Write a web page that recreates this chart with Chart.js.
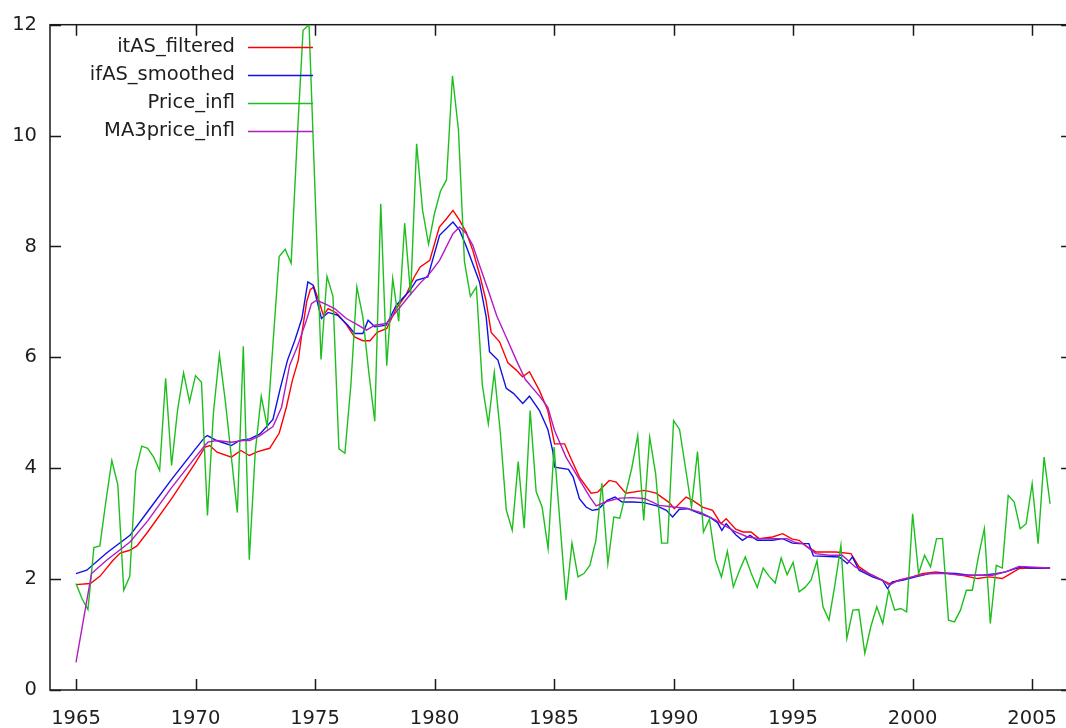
<!DOCTYPE html>
<html>
<head>
<meta charset="utf-8">
<title>Price inflation and filtered estimates</title>
<script src="https://cdn.jsdelivr.net/npm/chart.js@4.4.1/dist/chart.umd.min.js"></script>
<style>
  html, body { margin: 0; padding: 0; background: #ffffff; overflow: hidden; }
  #wrap { width: 1066px; height: 728px; overflow: hidden; }
  #chart { display: block; }
</style>
</head>
<body>
<div id="wrap"><canvas id="chart" width="1074" height="728"></canvas></div>
<script>
// Quarterly series starts at 1965Q1
const START_YEAR = 1965;
const QUARTER = 0.25;

// Price_infl, one value per quarter (1965Q1 .. 2005Q4)
const priceInfl = [
  1.92, 1.65, 1.45, 2.57, 2.60, 3.40, 4.14, 3.70, 1.80, 2.05,
  3.95, 4.40, 4.36, 4.20, 3.96, 5.62, 4.05, 5.05, 5.72, 5.20,
  5.67, 5.55, 3.15, 5.00, 6.05, 5.20, 4.20, 3.20, 6.20, 2.35,
  4.30, 5.30, 4.75, 6.30, 7.82, 7.95, 7.70, 9.90, 11.90, 12.00,
  9.00, 5.96, 7.46, 7.10, 4.35, 4.27, 5.50, 7.27, 6.73, 5.73,
  4.85, 8.77, 5.85, 7.42, 6.65, 8.42, 7.12, 9.85, 8.65, 8.04,
  8.60, 9.00, 9.20, 11.08, 10.10, 7.73, 7.10, 7.27, 5.50, 4.80,
  5.73, 4.65, 3.25, 2.88, 4.12, 2.92, 5.04, 3.58, 3.30, 2.55,
  4.38, 3.00, 1.62, 2.65, 2.04, 2.10, 2.25, 2.70, 3.73, 2.28,
  3.12, 3.10, 3.55, 4.00, 4.59, 3.06, 4.56, 3.90, 2.65, 2.65,
  4.86, 4.70, 4.00, 3.30, 4.30, 2.85, 3.08, 2.35, 2.04, 2.50,
  1.86, 2.15, 2.40, 2.10, 1.85, 2.20, 2.05, 1.93, 2.38, 2.08,
  2.30, 1.77, 1.85, 1.98, 2.33, 1.50, 1.26, 1.90, 2.61, 0.93,
  1.44, 1.45, 0.66, 1.14, 1.50, 1.20, 1.80, 1.44, 1.47, 1.41,
  3.18, 2.10, 2.43, 2.22, 2.73, 2.73, 1.26, 1.23, 1.44, 1.80,
  1.80, 2.40, 2.91, 1.20, 2.25, 2.20, 3.51, 3.39, 2.91, 3.00,
  3.72, 2.64, 4.20, 3.36
];

// itAS_filtered: breakpoints (year, value)
const itasYears = [
  1965.0, 1965.6, 1966.0, 1966.55, 1966.85, 1967.25, 1967.55, 1968.0, 1969.0, 1970.0,
  1970.4, 1970.6, 1970.9, 1971.5, 1971.9, 1972.25, 1972.6, 1973.1, 1973.5, 1973.8,
  1974.05, 1974.3, 1974.45, 1974.65, 1974.8, 1974.95, 1975.15, 1975.35, 1975.55, 1975.9,
  1976.3, 1976.65, 1977.0, 1977.3, 1977.6, 1978.0, 1978.4, 1978.8, 1979.15, 1979.4,
  1979.8, 1980.2, 1980.5, 1980.77, 1981.05, 1981.33, 1981.6, 1981.88, 1982.15, 1982.37,
  1982.72, 1983.07, 1983.42, 1983.68, 1983.97, 1984.39, 1984.74, 1985.02, 1985.44, 1985.71,
  1986.06, 1986.55, 1986.83, 1987.31, 1987.6, 1988.0, 1988.78, 1989.27, 1989.82, 1990.03,
  1990.52, 1990.8, 1991.21, 1991.63, 1991.98, 1992.2, 1992.6, 1992.9, 1993.24, 1993.58,
  1994.14, 1994.56, 1994.97, 1995.25, 1995.6, 1995.95, 1996.79, 1997.42, 1997.76, 1998.18,
  1998.6, 1999.02, 1999.43, 1999.99, 2000.39, 2000.97, 2001.52, 2002.08, 2002.71, 2003.2,
  2003.75, 2004.1, 2004.45, 2004.87, 2005.75
];
const itasValues = [
  1.90, 1.92, 2.05, 2.34, 2.47, 2.52, 2.60, 2.85, 3.45, 4.10,
  4.38, 4.41, 4.29, 4.20, 4.32, 4.23, 4.30, 4.36, 4.63, 5.10,
  5.58, 5.95, 6.43, 7.00, 7.22, 7.27, 7.03, 6.76, 6.88, 6.80,
  6.60, 6.37, 6.30, 6.30, 6.45, 6.52, 6.88, 7.12, 7.45, 7.63,
  7.75, 8.35, 8.50, 8.65, 8.47, 8.25, 7.93, 7.50, 7.03, 6.45,
  6.28, 5.90, 5.77, 5.65, 5.74, 5.40, 5.04, 4.44, 4.44, 4.17,
  3.84, 3.55, 3.57, 3.78, 3.75, 3.55, 3.60, 3.55, 3.38, 3.27,
  3.48, 3.42, 3.30, 3.24, 3.00, 3.09, 2.90, 2.85, 2.85, 2.73,
  2.76, 2.82, 2.72, 2.70, 2.58, 2.49, 2.49, 2.46, 2.22, 2.10,
  2.01, 1.92, 1.98, 2.04, 2.10, 2.13, 2.10, 2.07, 2.01, 2.04,
  2.01, 2.10, 2.19, 2.20, 2.20
];

// ifAS_smoothed: breakpoints (year, value)
const ifasYears = [
  1965.0, 1965.45, 1966.28, 1967.26, 1968.0, 1969.0, 1970.0, 1970.39, 1970.5, 1970.88,
  1971.5, 1971.85, 1972.27, 1972.7, 1973.24, 1973.55, 1973.85, 1974.15, 1974.45, 1974.7,
  1974.92, 1975.27, 1975.55, 1975.95, 1976.37, 1976.66, 1977.0, 1977.22, 1977.5, 1977.98,
  1978.4, 1978.96, 1979.24, 1979.72, 1980.21, 1980.77, 1981.05, 1981.33, 1981.88, 1982.16,
  1982.3, 1982.65, 1983.0, 1983.3, 1983.69, 1983.97, 1984.39, 1984.74, 1984.95, 1985.02,
  1985.6, 1985.8, 1986.06, 1986.34, 1986.6, 1986.85, 1987.22, 1987.55, 1987.85, 1988.3,
  1988.75, 1989.3, 1989.7, 1989.96, 1990.24, 1990.6, 1991.0, 1991.5, 1991.84, 1992.02,
  1992.2, 1992.6, 1992.88, 1993.2, 1993.5, 1994.14, 1994.56, 1994.97, 1995.25, 1995.66,
  1995.85, 1996.93, 1997.27, 1997.48, 1997.76, 1998.32, 1998.74, 1998.95, 1999.15, 1999.57,
  2000.13, 2000.69, 2001.24, 2001.8, 2002.36, 2002.92, 2003.48, 2003.89, 2004.3, 2004.59,
  2004.87, 2005.75
];
const ifasValues = [
  2.10, 2.16, 2.47, 2.79, 3.22, 3.80, 4.35, 4.56, 4.59, 4.50,
  4.41, 4.50, 4.53, 4.62, 4.88, 5.45, 5.95, 6.30, 6.70, 7.36,
  7.30, 6.70, 6.81, 6.76, 6.58, 6.43, 6.43, 6.67, 6.55, 6.58,
  6.94, 7.20, 7.39, 7.45, 8.20, 8.44, 8.29, 8.00, 7.36, 6.73,
  6.10, 5.95, 5.44, 5.35, 5.17, 5.30, 5.04, 4.70, 4.30, 4.02,
  3.98, 3.84, 3.45, 3.30, 3.24, 3.26, 3.42, 3.48, 3.39, 3.39,
  3.38, 3.32, 3.24, 3.12, 3.26, 3.27, 3.20, 3.12, 3.02, 2.88,
  3.00, 2.80, 2.70, 2.79, 2.70, 2.70, 2.73, 2.65, 2.64, 2.64,
  2.42, 2.40, 2.28, 2.40, 2.16, 2.04, 1.98, 1.83, 1.95, 1.98,
  2.04, 2.10, 2.11, 2.10, 2.07, 2.07, 2.10, 2.13, 2.19, 2.22,
  2.20, 2.20
];

// MA3price_infl: breakpoints (year, value)
const ma3Years = [
  1965.0, 1965.65, 1966.28, 1967.26, 1968.0, 1969.0, 1970.0, 1970.39, 1970.52, 1970.88,
  1971.5, 1971.98, 1972.27, 1972.7, 1973.24, 1973.6, 1973.94, 1974.25, 1974.64, 1974.85,
  1975.06, 1975.4, 1975.82, 1976.31, 1976.8, 1977.15, 1977.5, 1977.98, 1978.4, 1978.96,
  1979.38, 1979.79, 1980.21, 1980.77, 1981.05, 1981.33, 1981.6, 1981.88, 1982.23, 1982.6,
  1982.99, 1983.42, 1983.8, 1984.39, 1984.74, 1985.02, 1985.5, 1986.0, 1986.5, 1986.76,
  1987.2, 1987.75, 1988.3, 1988.8, 1989.4, 1990.0, 1990.55, 1991.15, 1991.7, 1992.0,
  1992.55, 1993.1, 1993.6, 1994.2, 1994.75, 1995.1, 1995.4, 1995.95, 1996.5, 1997.05,
  1997.6, 1998.18, 1998.74, 1999.02, 1999.43, 1999.99, 2000.69, 2001.38, 2002.08, 2002.78,
  2003.34, 2003.89, 2004.45, 2004.87, 2005.75
];
const ma3Values = [
  0.50, 2.10, 2.34, 2.67, 3.05, 3.65, 4.20, 4.41, 4.47, 4.50,
  4.47, 4.50, 4.50, 4.59, 4.75, 5.10, 5.86, 6.18, 6.67, 6.97,
  7.03, 6.97, 6.88, 6.70, 6.58, 6.49, 6.58, 6.61, 6.82, 7.12,
  7.33, 7.51, 7.75, 8.23, 8.35, 8.23, 8.02, 7.66, 7.23, 6.75,
  6.37, 5.95, 5.60, 5.30, 5.10, 4.68, 4.20, 3.84, 3.48, 3.32,
  3.40, 3.46, 3.47, 3.45, 3.33, 3.30, 3.28, 3.20, 3.08, 3.00,
  2.86, 2.76, 2.73, 2.73, 2.73, 2.66, 2.64, 2.46, 2.43, 2.43,
  2.22, 2.10, 1.98, 1.89, 1.98, 2.04, 2.10, 2.10, 2.07, 2.07,
  2.07, 2.13, 2.23, 2.22, 2.20
];

// Axis ticks
const xTickValues = [1965, 1970, 1975, 1980, 1985, 1990, 1995, 2000, 2005];
const yTickValues = [0, 2, 4, 6, 8, 10, 12];

const X_MIN = 1963.913;
const X_MAX = 2006.672;
const Y_MIN = 0;
const Y_MAX = 12;
const TICK_LEN = 11;
const FONT_FAMILY = '"DejaVu Sans", "Liberation Sans", sans-serif';
const FONT_SIZE = 19.5;
const TEXT_COLOR = '#1e1e1e';
const LINE_WIDTH = 1.4;

const toPoints = (xs, ys) => xs.map((x, i) => ({ x: x, y: ys[i] }));
const quarterlyPoints = (vals) => vals.map((v, i) => ({ x: START_YEAR + i * QUARTER, y: v }));

const lineStyle = (color) => ({
  borderColor: color,
  backgroundColor: color,
  borderWidth: LINE_WIDTH,
  pointRadius: 0,
  tension: 0,
  fill: false
});

const datasets = [
  Object.assign({ label: 'itAS_filtered', data: toPoints(itasYears, itasValues), order: 4 }, lineStyle('#ff0000')),
  Object.assign({ label: 'ifAS_smoothed', data: toPoints(ifasYears, ifasValues), order: 3 }, lineStyle('#1010e8')),
  Object.assign({ label: 'Price_infl', data: quarterlyPoints(priceInfl), order: 2 }, lineStyle('#1dbf1d')),
  Object.assign({ label: 'MA3price_infl', data: toPoints(ma3Years, ma3Values), order: 1 }, lineStyle('#b01cc4'))
];

// Box frame with inward ticks on all four sides
const framePlugin = {
  id: 'frame',
  beforeDatasetsDraw(chart) {
    const { ctx, chartArea: a, scales } = chart;
    const xs = scales.x, ys = scales.y;
    ctx.save();
    ctx.strokeStyle = '#1a1a1a';
    ctx.lineWidth = 1.5;
    ctx.strokeRect(a.left, a.top, a.right - a.left, a.bottom - a.top);
    ctx.beginPath();
    xs.ticks.forEach(t => {
      const px = Math.round(xs.getPixelForValue(t.value)) + 0.5;
      ctx.moveTo(px, a.bottom); ctx.lineTo(px, a.bottom - TICK_LEN);
      ctx.moveTo(px, a.top); ctx.lineTo(px, a.top + TICK_LEN);
    });
    ys.ticks.forEach(t => {
      const py = Math.round(ys.getPixelForValue(t.value)) + 0.5;
      ctx.moveTo(a.left, py); ctx.lineTo(a.left + TICK_LEN, py);
      ctx.moveTo(a.right, py); ctx.lineTo(a.right - TICK_LEN, py);
    });
    ctx.stroke();
    ctx.restore();
  }
};

// Key in the upper-left corner: right-aligned titles followed by line samples
const keyPlugin = {
  id: 'key',
  afterDatasetsDraw(chart) {
    const { ctx } = chart;
    const textRight = 235, lineStart = 248, lineEnd = 313, firstRow = 47, rowGap = 28;
    ctx.save();
    ctx.font = FONT_SIZE + 'px ' + FONT_FAMILY;
    ctx.textAlign = 'right';
    ctx.textBaseline = 'middle';
    chart.data.datasets.forEach((ds, i) => {
      const y = firstRow + i * rowGap;
      ctx.fillStyle = TEXT_COLOR;
      ctx.fillText(ds.label, textRight, y);
      ctx.strokeStyle = ds.borderColor;
      ctx.lineWidth = LINE_WIDTH;
      ctx.beginPath();
      ctx.moveTo(lineStart, y + 0.5);
      ctx.lineTo(lineEnd, y + 0.5);
      ctx.stroke();
    });
    ctx.restore();
  }
};

Chart.defaults.font.family = FONT_FAMILY;
Chart.defaults.font.size = FONT_SIZE;
Chart.defaults.color = TEXT_COLOR;

new Chart(document.getElementById('chart'), {
  type: 'line',
  data: { datasets: datasets },
  options: {
    responsive: false,
    animation: false,
    events: [],
    layout: { padding: { top: 24, right: 1, left: 0, bottom: 0 } },
    plugins: {
      legend: { display: false },
      tooltip: { enabled: false }
    },
    scales: {
      x: {
        type: 'linear',
        min: X_MIN,
        max: X_MAX,
        grid: { display: false, drawTicks: false },
        border: { display: false },
        ticks: { padding: 17, maxRotation: 0, autoSkip: false, callback: v => String(v) },
        afterBuildTicks: s => { s.ticks = xTickValues.map(v => ({ value: v })); },
        afterFit: s => { s.height = 38; }
      },
      y: {
        type: 'linear',
        min: Y_MIN,
        max: Y_MAX,
        grid: { display: false, drawTicks: false },
        border: { display: false },
        ticks: { padding: 13, autoSkip: false, callback: v => String(v) },
        afterBuildTicks: s => { s.ticks = yTickValues.map(v => ({ value: v })); },
        afterFit: s => { s.width = 50; }
      }
    }
  },
  plugins: [framePlugin, keyPlugin]
});
</script>
</body>
</html>
